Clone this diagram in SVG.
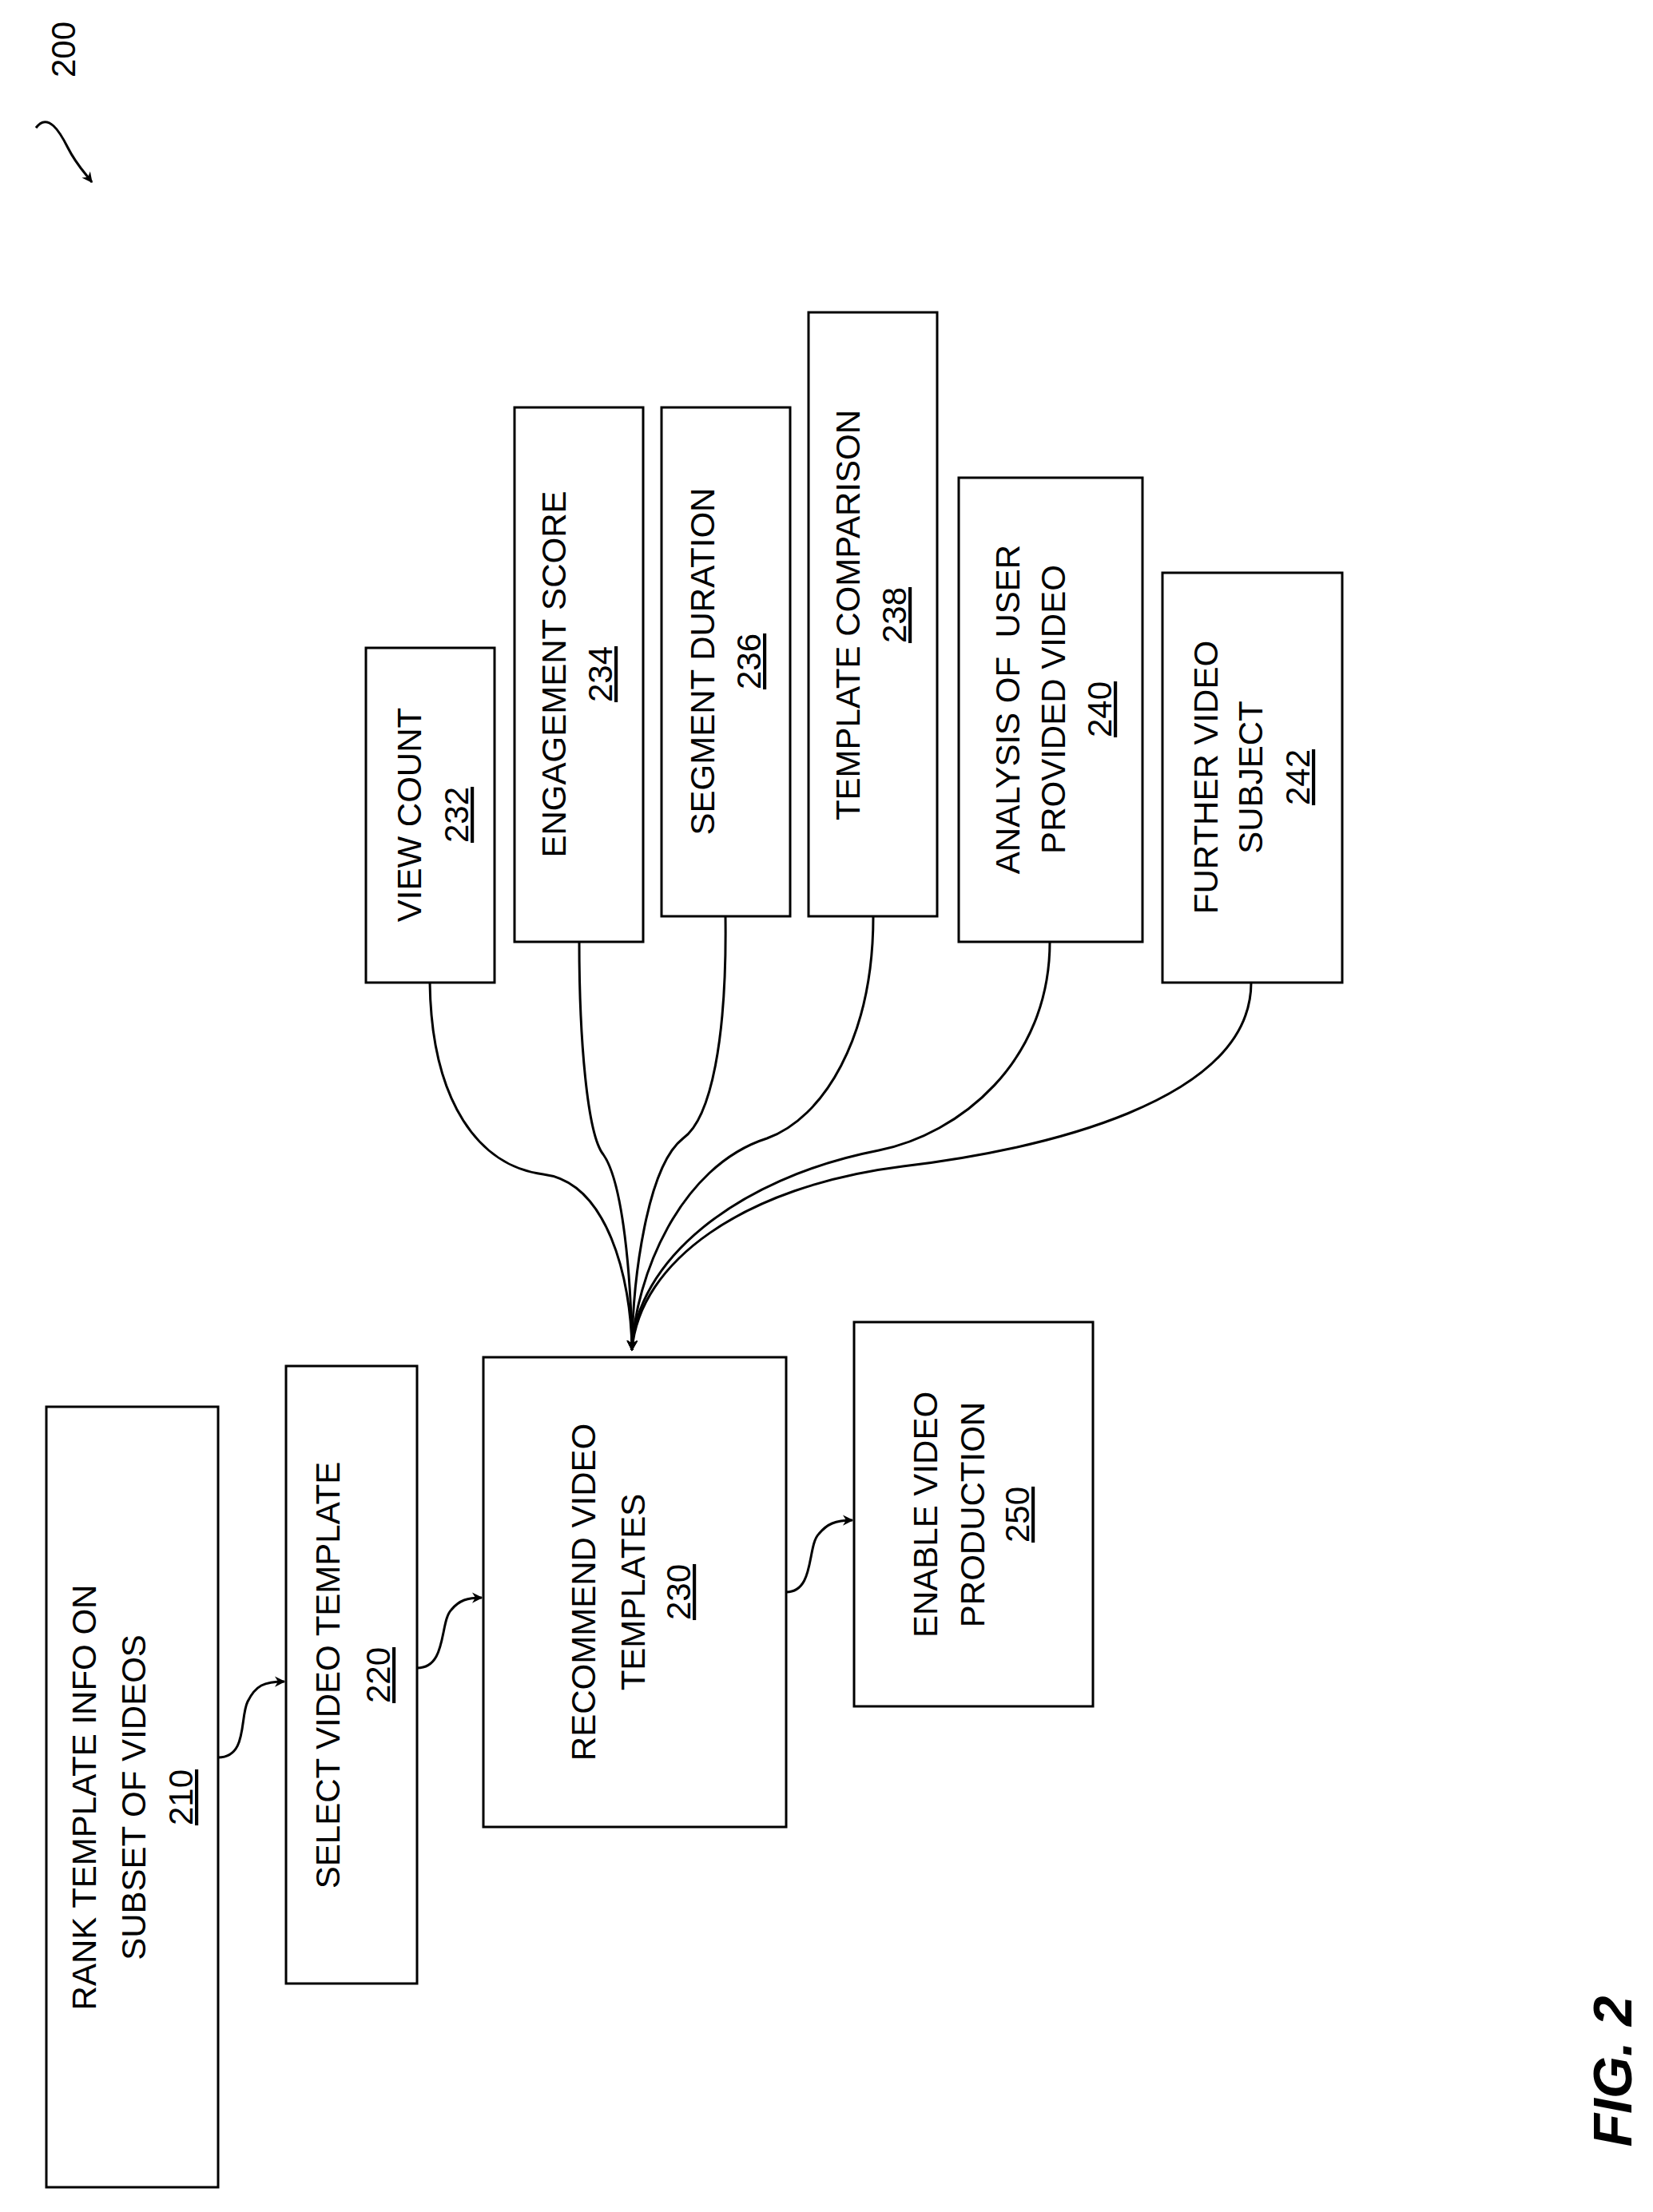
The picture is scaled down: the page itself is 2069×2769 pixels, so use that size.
<svg xmlns="http://www.w3.org/2000/svg" width="2069" height="2769" viewBox="0 0 2069 2769">
<style>
rect{fill:#fff;stroke:#000;stroke-width:3}
text{font-family:"Liberation Sans",Arial,sans-serif;font-size:42px;text-anchor:middle;fill:#000}
.u{text-decoration:underline}
path.c{fill:none;stroke:#000;stroke-width:3;marker-end:url(#a)}
</style>
<defs><marker id="a" viewBox="0 0 10 10" refX="9" refY="5" markerWidth="6" markerHeight="6" orient="auto" markerUnits="userSpaceOnUse" style="overflow:visible"><path d="M0,0 L10,5 L0,10 L3,5 z" transform="scale(2.2) translate(-5,-2.7)" fill="#000"/></marker></defs>
<rect width="2069" height="2769" style="fill:#fff;stroke:none"/>
<g id="label200"><text transform="translate(94,62) rotate(-90)">200</text><path class="c" d="M45,160 C60,140 75,165 85,185 C95,205 105,215 115,228"/></g>
<g id="n210"><rect x="58" y="1761" width="215" height="977"/><g transform="translate(0,2250) rotate(-90)"><text y="120">RANK TEMPLATE INFO ON</text><text y="182">SUBSET OF VIDEOS</text><text y="241" class="u">210</text></g></g>
<g id="n220"><rect x="358" y="1710" width="164" height="773"/><g transform="translate(0,2097) rotate(-90)"><text y="425">SELECT VIDEO TEMPLATE</text><text y="488" class="u">220</text></g></g>
<g id="n230"><rect x="605" y="1699" width="379" height="588"/><g transform="translate(0,1993) rotate(-90)"><text y="745">RECOMMEND VIDEO</text><text y="807">TEMPLATES</text><text y="864" class="u">230</text></g></g>
<g id="n250"><rect x="1069" y="1655" width="299" height="481"/><g transform="translate(0,1896) rotate(-90)"><text y="1173">ENABLE VIDEO</text><text y="1232">PRODUCTION</text><text y="1288" class="u">250</text></g></g>
<g id="n232"><rect x="458" y="811" width="161" height="419"/><g transform="translate(0,1020) rotate(-90)"><text y="527">VIEW COUNT</text><text y="586" class="u">232</text></g></g>
<g id="n234"><rect x="644" y="510" width="161" height="669"/><g transform="translate(0,844) rotate(-90)"><text y="708">ENGAGEMENT SCORE</text><text y="766" class="u">234</text></g></g>
<g id="n236"><rect x="828" y="510" width="161" height="637"/><g transform="translate(0,828) rotate(-90)"><text y="894">SEGMENT DURATION</text><text y="952" class="u">236</text></g></g>
<g id="n238"><rect x="1012" y="391" width="161" height="756"/><g transform="translate(0,770) rotate(-90)"><text y="1076">TEMPLATE COMPARISON</text><text y="1134" class="u">238</text></g></g>
<g id="n240"><rect x="1200" y="598" width="230" height="581"/><g transform="translate(0,888) rotate(-90)"><text y="1276" xml:space="preserve">ANALYSIS OF  USER</text><text y="1333">PROVIDED VIDEO</text><text y="1391" class="u">240</text></g></g>
<g id="n242"><rect x="1455" y="717" width="225" height="513"/><g transform="translate(0,973) rotate(-90)"><text y="1524">FURTHER VIDEO</text><text y="1580">SUBJECT</text><text y="1639" class="u">242</text></g></g>
<g id="connectors">
<path class="c" d="M538,1230 C540,1380 600,1460 680,1470 C760,1480 790,1600 791,1690"/>
<path class="c" d="M725,1179 C725,1300 735,1420 755,1445 C780,1480 790,1600 791,1690"/>
<path class="c" d="M908,1147 C910,1300 890,1400 855,1425 C810,1460 792,1600 791,1690"/>
<path class="c" d="M1093,1147 C1093,1300 1030,1400 960,1425 C850,1460 795,1600 791,1690"/>
<path class="c" d="M1314,1179 C1314,1330 1200,1420 1100,1440 C920,1475 795,1580 791,1690"/>
<path class="c" d="M1566,1230 C1566,1380 1300,1440 1130,1460 C930,1485 800,1580 791,1690"/>
<path class="c" d="M273,2200 C310,2200 300,2150 310,2130 C320,2110 330,2105 356,2105"/>
<path class="c" d="M522,2088 C560,2088 550,2030 565,2015 C575,2003 585,2000 603,2000"/>
<path class="c" d="M984,1993 C1020,1993 1010,1935 1025,1920 C1035,1908 1045,1903 1067,1903"/>
</g>
<text transform="translate(2042,2593) rotate(-90)" style="font-size:68px;font-weight:bold;font-style:italic">FIG. 2</text>
</svg>
